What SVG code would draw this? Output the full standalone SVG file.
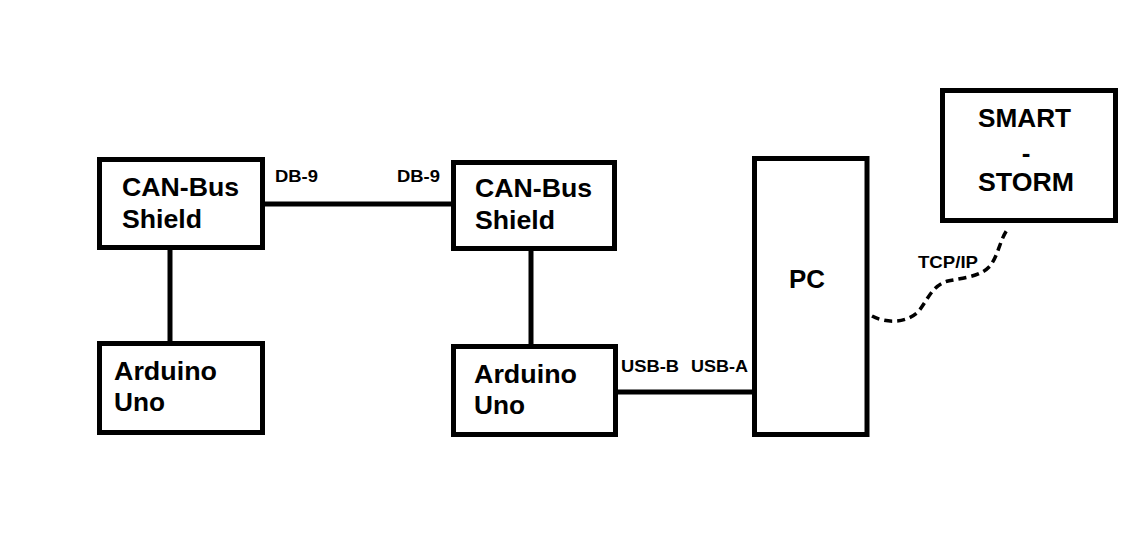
<svg xmlns="http://www.w3.org/2000/svg" width="1141" height="546" viewBox="0 0 1141 546">
<style>
.box{fill:#fff;stroke:#000;stroke-width:5}
.t{font-family:"Liberation Sans",Arial,sans-serif;font-weight:bold;font-size:26px;fill:#000}
.s{font-family:"Liberation Sans",Arial,sans-serif;font-weight:bold;font-size:16.5px;fill:#000}
.line{stroke:#000;stroke-width:5;fill:none}
.dash{stroke:#000;stroke-width:3.5;fill:none;stroke-dasharray:8 5}
</style>
<rect width="1141" height="546" fill="#fff"/>
<g id="connectors">
<line class="line" x1="265" y1="204" x2="451" y2="204"/>
<line class="line" x1="170" y1="250" x2="170" y2="341"/>
<line class="line" x1="531" y1="251" x2="531" y2="344"/>
<line class="line" x1="618" y1="392" x2="752" y2="392"/>
<path class="dash" d="M872,316 C885,323 905,324 918,312 C928,300 932,285 948,281 C962,278 980,277 990,266 C998,256 1000,240 1007,230"/>
<text class="s" x="275" y="182" textLength="43" lengthAdjust="spacingAndGlyphs">DB-9</text>
<text class="s" x="397" y="182" textLength="43" lengthAdjust="spacingAndGlyphs">DB-9</text>
<text class="s" x="621" y="372" textLength="58" lengthAdjust="spacingAndGlyphs">USB-B</text>
<text class="s" x="691" y="372" textLength="57" lengthAdjust="spacingAndGlyphs">USB-A</text>
<text class="s" x="918" y="268" textLength="60" lengthAdjust="spacingAndGlyphs">TCP/IP</text>
</g>
<g id="can1">
<rect class="box" x="99.5" y="159.5" width="163" height="88"/>
<text class="t" x="122" y="196" textLength="117" lengthAdjust="spacingAndGlyphs">CAN-Bus</text>
<text class="t" x="122" y="228" textLength="80" lengthAdjust="spacingAndGlyphs">Shield</text>
</g>
<g id="arduino1">
<rect class="box" x="99.5" y="343.5" width="163" height="89"/>
<text class="t" x="114" y="380" textLength="103" lengthAdjust="spacingAndGlyphs">Arduino</text>
<text class="t" x="114" y="411" textLength="51" lengthAdjust="spacingAndGlyphs">Uno</text>
</g>
<g id="can2">
<rect class="box" x="453.5" y="162.5" width="161" height="86"/>
<text class="t" x="475" y="197" textLength="117" lengthAdjust="spacingAndGlyphs">CAN-Bus</text>
<text class="t" x="475" y="229" textLength="80" lengthAdjust="spacingAndGlyphs">Shield</text>
</g>
<g id="arduino2">
<rect class="box" x="453.5" y="346.5" width="162" height="88"/>
<text class="t" x="474" y="383" textLength="103" lengthAdjust="spacingAndGlyphs">Arduino</text>
<text class="t" x="474" y="414" textLength="51" lengthAdjust="spacingAndGlyphs">Uno</text>
</g>
<g id="pc">
<rect class="box" x="754.5" y="158.5" width="112.5" height="276"/>
<text class="t" x="789" y="288" textLength="36" lengthAdjust="spacingAndGlyphs">PC</text>
</g>
<g id="smartstorm">
<rect class="box" x="942.5" y="90.5" width="173" height="130"/>
<text class="t" x="978" y="127" textLength="93" lengthAdjust="spacingAndGlyphs">SMART</text>
<text class="t" x="1026" y="162" text-anchor="middle">-</text>
<text class="t" x="978" y="191" textLength="96" lengthAdjust="spacingAndGlyphs">STORM</text>
</g>
</svg>
